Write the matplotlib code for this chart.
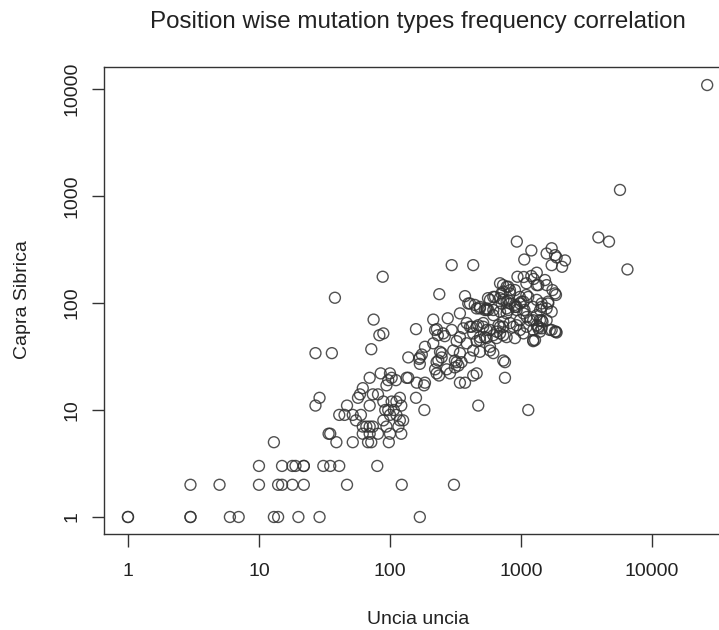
import matplotlib
matplotlib.use("Agg")
import matplotlib.pyplot as plt
from matplotlib.ticker import FixedLocator, NullLocator

# mutation counts per position type (x: Uncia uncia, y: Capra Sibrica)
uncia = [
    1, 1, 3, 3, 6, 7, 13, 14, 20, 29, 169,
    3, 5, 10, 14, 15, 18, 22, 47, 123, 308,
    10, 15, 18, 19, 22, 22, 31, 35, 41, 80,
    13, 39, 52, 68, 72, 98,
    34, 35, 62, 70, 81, 100, 122,
    62, 66, 70, 74, 94, 116,
    55, 89, 119, 126,
    41, 45, 52, 60, 100, 112,
    92, 107, 97, 183, 1137,
    27, 47, 70, 122, 472,
    89, 103, 112,
    29, 57, 119, 158,
    59, 74, 81,
    62,
    94, 182,
    160, 342, 374, 185,
    97, 111,
    70, 103, 134, 138, 755,
    85, 100, 287, 459, 227,
    237, 432,
    221, 313, 271,
    169, 227, 323, 352, 755, 333,
    167, 234, 733, 313,
    138, 169, 248, 408,
    175, 248, 27, 36, 342, 615,
    241, 486, 304, 432, 580,
    72, 185, 214, 385,
    323, 1240, 486, 1280,
    651, 900, 547, 531, 486, 342, 777,
    83, 89, 232, 615, 733, 262,
    255, 432, 692, 1045,
    1870, 651, 1850,
    228, 158, 296, 221, 547, 580, 982, 1241, 1715,
    363, 1356, 1438,
    420, 459, 408, 515, 692, 733, 873, 1105, 1356,
    927, 472,
    385, 515, 824, 1460,
    214, 75, 276, 1440, 1240, 982, 1170, 1396, 1570,
    615, 1320,
    342, 777, 1045,
    1715, 692,
    563, 927, 1063, 1400, 531, 615,
    1570, 459, 547, 777,
    486, 1240, 900, 1438,
    900,
    408, 396, 711, 982, 1615,
    1010, 777,
    800, 580,
    38, 690, 560,
    980, 615, 634,
    374, 1100, 1850,
    238, 710, 824,
    733,
    900, 1740, 824,
    800, 777,
    730, 1570, 1320,
    1100, 692,
    1525,
    1250, 940, 1050, 1200, 88,
    1320,
    6500, 2060, 1715, 296, 432,
    2170, 1060, 1870, 1820, 1570,
    1200, 1715,
    930, 4700, 3900,
    5700, 26400,
    # extra points in the dense centre
    444, 486, 547, 733, 824, 800, 927, 1045, 1137,
    1320, 1438, 1615, 1820, 1356,
    673, 733, 459, 580, 1105, 1320, 1396, 1660, 1820, 1241,
]
capra = [
    1, 1, 1, 1, 1, 1, 1, 1, 1, 1, 1,
    2, 2, 2, 2, 2, 2, 2, 2, 2, 2,
    3, 3, 3, 3, 3, 3, 3, 3, 3, 3,
    5, 5, 5, 5, 5, 5,
    6, 6, 6, 6, 6, 6, 6,
    7, 7, 7, 7, 7, 7,
    8, 8, 8, 8,
    9, 9, 9, 9, 9, 9,
    10, 10, 10, 10, 10,
    11, 11, 11, 11, 11,
    12, 12, 12,
    13, 13, 13, 13,
    14, 14, 14,
    16,
    17, 17,
    18, 18, 18, 18,
    19, 19,
    20, 20, 20, 20, 20,
    22, 22, 22, 22, 22,
    21, 21,
    24, 25, 24,
    27, 28, 28, 28, 28, 26,
    30, 29, 29, 29,
    31, 31, 31, 31,
    33, 34, 34, 34, 34, 34,
    35, 35, 36, 36, 36,
    37, 39, 42, 42,
    44, 44, 45, 45,
    47, 47, 47, 48, 48, 48, 48,
    50, 52, 50, 50, 50, 49,
    52, 52, 52, 52,
    53, 54, 54,
    57, 57, 56, 56, 56, 56, 56, 56, 56,
    58, 58, 58,
    60, 60, 60, 60, 60, 60, 60, 60, 60,
    62, 62,
    65, 65, 65, 67,
    70, 70, 72, 69, 69, 69, 69, 69, 69,
    77, 77,
    80, 80, 80,
    83, 83,
    86, 86, 86, 86, 86, 86,
    89, 89, 89, 89,
    92, 92, 92, 92,
    96,
    99, 99, 99, 99, 99,
    103, 103,
    106, 107,
    112, 111, 111,
    114, 114, 114,
    116, 119, 119,
    121, 123, 123,
    128,
    132, 132, 132,
    142, 142,
    147, 147, 147,
    153, 153,
    164,
    168, 176, 175, 179, 176,
    192,
    206, 218, 226, 226, 226,
    250, 255, 267, 280, 290,
    310, 325,
    375, 375, 410,
    1140, 10900,
    96, 89, 86, 107, 99, 86, 92, 103, 114,
    107, 99, 103, 123, 147,
    62, 67, 44, 39, 74, 62, 54, 56, 54, 45,
]

X_TICKS = [1, 10, 100, 1000, 10000]
Y_TICKS = [1, 10, 100, 1000, 10000]
TICK_LABELS = ["1", "10", "100", "1000", "10000"]

W, H = 719, 630
INK = "#333333"
plt.rcParams["font.family"] = ["Liberation Sans", "DejaVu Sans"]

fig = plt.figure(figsize=(W / 100, H / 100), dpi=100)
# plot region in pixels: left 104, right 732 (runs off the canvas), top 67, bottom 534
ax = fig.add_axes([104 / W, (H - 534) / H, (732 - 104) / W, (534 - 67) / H])

ax.scatter(uncia, capra, s=62, facecolors="none", edgecolors=INK,
           linewidths=1.0, alpha=0.85, zorder=3)

ax.set_xscale("log")
ax.set_yscale("log")
ax.set_xlim(10 ** -0.183, 10 ** 4.611)
ax.set_ylim(10 ** -0.159, 10 ** 4.206)

ax.xaxis.set_major_locator(FixedLocator(X_TICKS))
ax.yaxis.set_major_locator(FixedLocator(Y_TICKS))
ax.xaxis.set_minor_locator(NullLocator())
ax.yaxis.set_minor_locator(NullLocator())
ax.set_xticklabels(TICK_LABELS)
ax.set_yticklabels(TICK_LABELS, rotation=90, va="center")
ax.tick_params(axis="both", direction="out", length=9, width=1.0, color=INK,
               labelsize=14, labelcolor="#222222")
ax.tick_params(axis="x", pad=12)
ax.tick_params(axis="y", pad=8)

for sp in ax.spines.values():
    sp.set_color(INK)
    sp.set_linewidth(1.0)

fig.text(418 / W, 1 - 22 / H, "Position wise mutation types frequency correlation",
         ha="center", va="center", fontsize=17.4, color="#222222")
fig.text(418 / W, 1 - 619 / H, "Uncia uncia", ha="center", va="center",
         fontsize=14, color="#222222")
fig.text(23 / W, 1 - 300 / H, "Capra Sibrica", ha="center", va="center",
         rotation=90, fontsize=14, color="#222222")

fig.savefig("out.png", dpi=100)
